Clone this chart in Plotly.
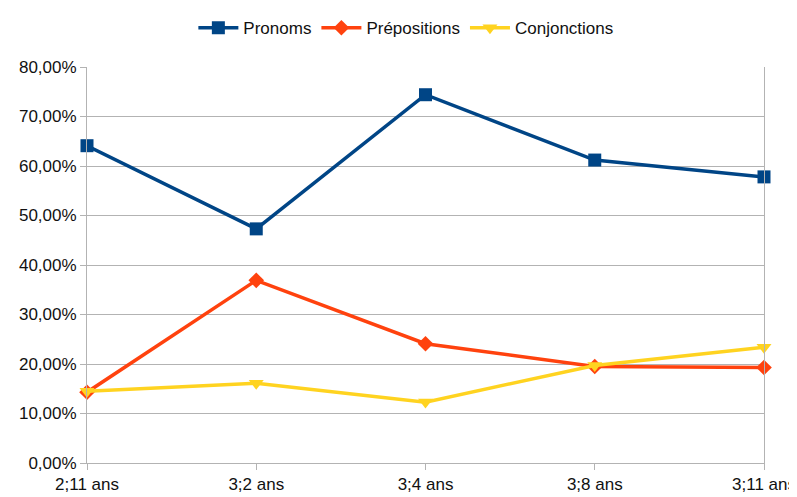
import plotly.graph_objects as go

categories = ["2;11 ans", "3;2 ans", "3;4 ans", "3;8 ans", "3;11 ans"]
pronoms = [0.641, 0.473, 0.744, 0.612, 0.578]
prepositions = [0.143, 0.369, 0.241, 0.195, 0.193]
conjonctions = [0.145, 0.161, 0.123, 0.197, 0.234]
y_ticks = [0, 0.1, 0.2, 0.3, 0.4, 0.5, 0.6, 0.7, 0.8]

FONT = "Liberation Sans, Arial, sans-serif"

fig = go.Figure()
fig.add_trace(go.Scatter(x=categories, y=pronoms, name="Pronoms", mode="lines+markers",
                         cliponaxis=False,
                         line=dict(color="#004586", width=3.5),
                         marker=dict(symbol="square", size=13, color="#004586")))
fig.add_trace(go.Scatter(x=categories, y=prepositions, name="Prépositions", mode="lines+markers",
                         cliponaxis=False,
                         line=dict(color="#ff420e", width=3.5),
                         marker=dict(symbol="diamond", size=12, color="#ff420e")))
fig.add_trace(go.Scatter(x=categories, y=conjonctions, name="Conjonctions", mode="lines+markers",
                         cliponaxis=False,
                         line=dict(color="#ffd320", width=3.5),
                         marker=dict(symbol="triangle-down", size=13, color="#ffd320")))

fig.update_layout(
    width=789, height=489,
    margin=dict(l=79, r=33, t=59, b=34, autoexpand=False),
    paper_bgcolor="white", plot_bgcolor="white",
    separators=", ",
    font=dict(family=FONT, size=17, color="#222222"),
    legend=dict(orientation="h", x=0.471, xanchor="center", y=1.098, yanchor="middle",
                font=dict(size=17, color="#111111"),
                itemwidth=40, tracegroupgap=0),
    showlegend=True,
)
fig.update_xaxes(type="category", range=[0, 4], showgrid=False, automargin=False,
                 showline=True, linecolor="#b3b3b3", linewidth=1,
                 ticks="outside", ticklen=6, tickcolor="#b3b3b3",
                 tickfont=dict(size=17, color="#111111"), zeroline=False)
fig.update_yaxes(range=[0, 0.8], tickvals=y_ticks, tickformat=".2%", automargin=False,
                 showgrid=True, gridcolor="#b3b3b3", gridwidth=1,
                 showline=True, linecolor="#b3b3b3", linewidth=1, mirror=True,
                 ticks="outside", ticklen=6, tickcolor="#b3b3b3",
                 tickfont=dict(size=17, color="#111111"), zeroline=False)

fig.write_html("out.html")
